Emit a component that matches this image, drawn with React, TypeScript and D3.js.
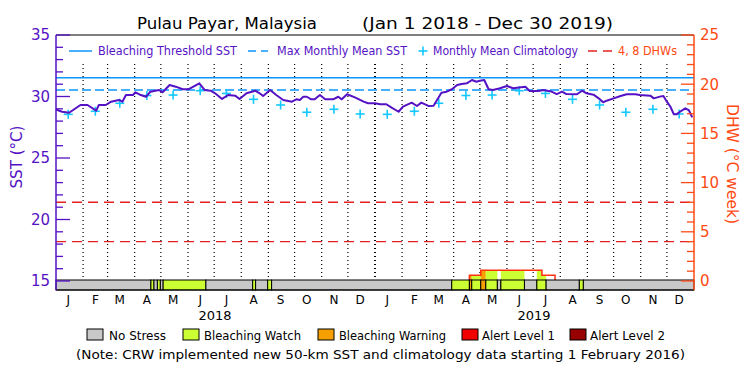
import React from "react";
import * as d3 from "d3";

// ---------- data ----------
const START = Date.UTC(2018, 0, 1);
const END = Date.UTC(2020, 0, 1);

// SST (daily-ish readings): day offset from Jan 1 2018, value in °C
const sstDays = [0, 7, 15, 28, 36, 46, 49, 57, 63, 72, 76, 80, 88, 91, 97, 103, 108, 118, 122, 130, 137, 145, 152, 164, 170, 177, 182, 190, 197, 205, 210, 218, 228, 233, 237, 245, 252, 260, 270, 275, 279, 283, 287, 292, 296, 302, 308, 317, 323, 327, 333, 342, 352, 357, 365, 371, 378, 384, 392, 397, 407, 413, 418, 426, 432, 436, 441, 447, 453, 459, 464, 470, 476, 481, 485, 490, 495, 500, 508, 516, 523, 537, 542, 552, 558, 562, 567, 573, 579, 584, 596, 602, 607, 615, 621, 626, 630, 638, 646, 653, 663, 668, 680, 684, 691, 695, 699, 703, 707, 710, 714, 720, 724, 728];
const sstValues = [28.94, 28.76, 28.68, 29.31, 29.31, 28.85, 29.31, 29.31, 29.58, 29.72, 29.58, 30.12, 30.12, 30.34, 30.12, 29.98, 30.39, 30.53, 30.34, 30.93, 30.8, 30.59, 30.59, 31.07, 30.53, 30.47, 30.26, 29.8, 30.12, 30.07, 29.8, 30.26, 30.47, 30.26, 30.04, 30.53, 30.12, 29.72, 29.58, 29.77, 29.72, 29.98, 29.98, 29.77, 29.77, 30.12, 29.77, 29.77, 29.98, 29.77, 30.18, 29.93, 29.58, 29.45, 29.45, 29.37, 29.37, 29.09, 28.76, 29.17, 29.5, 29.23, 29.5, 29.23, 29.25, 29.72, 30.31, 30.39, 30.59, 30.93, 31.02, 31.07, 31.34, 31.2, 31.28, 31.34, 30.59, 30.53, 30.67, 30.85, 30.67, 30.8, 30.45, 30.45, 30.53, 30.47, 30.4, 30.2, 30.4, 30.2, 30.18, 30.47, 30.26, 30.15, 29.85, 29.53, 29.66, 29.85, 30.04, 30.18, 30.18, 30.12, 30.07, 29.85, 29.99, 30.04, 29.58, 29.17, 28.55, 28.55, 28.76, 29.04, 28.9, 28.3];

// Monthly mean climatology (Jan..Dec)
const climValues = [28.55, 28.8, 29.45, 30.08, 30.12, 30.47, 30.25, 29.77, 29.31, 28.72, 28.96, 28.58];
const climYears = [2018, 2019];

const mmm = 30.53;
const bleachingThreshold = 31.53;
const dhwLines = [4, 8];

// Bleaching status runs (day offsets) — 0 none, 1 watch, 2 warning, 3 alert1, 4 alert2
const statusStart = [0, 108.6, 112.1, 116, 119.4, 122.6, 171.5, 225, 228.4, 242.2, 246.7, 452.8, 473, 475.7, 486, 491.8, 505, 509, 536, 550.2, 560.8, 598.8, 603.4];
const statusEnd = [108.6, 112.1, 116, 119.4, 122.6, 171.5, 225, 228.4, 242.2, 246.7, 452.8, 473, 475.7, 486, 491.8, 505, 509, 536, 550.2, 560.8, 598.8, 603.4, 730];
const statusLevel = [0, 1, 0, 1, 0, 1, 0, 1, 0, 1, 0, 1, 2, 1, 2, 1, 0, 1, 0, 1, 0, 1, 0];

// Degree Heating Weeks (step values)
const dhwDays = [473, 473, 486, 556, 571];
const dhwValues = [0, 0.58, 1.09, 0.58, 0];

const monthLetters = ["J", "F", "M", "A", "M", "J", "J", "A", "S", "O", "N", "D"];
const yearLabels = ["2018", "2019"];
const sstTicks = [15, 20, 25, 30, 35];
const dhwTicks = [0, 5, 10, 15, 20, 25];

const statusNames = ["No Stress", "Bleaching Watch", "Bleaching Warning", "Alert Level 1", "Alert Level 2"];
const statusColors = ["#c8c8c8", "#ccff33", "#f5a000", "#f00000", "#960000"];

// ---------- styling ----------
const PURPLE = "#5512c4";
const ORANGE = "#ff4a14";
const BLUE = "#0a96ff";
const CYAN = "#14c8ff";
const RED = "#e42020";
const FONT = "'DejaVu Sans', sans-serif";

const dayDate = (d: number) => new Date(START + d * 86400000);

export default function App() {
  const x = d3.scaleUtc().domain([new Date(START), new Date(END)]).range([56, 694]);
  const xd = (d: number) => x(dayDate(d));
  const yS = d3.scaleLinear().domain([15, 35]).range([281, 35]);
  const yD = d3.scaleLinear().domain([0, 25]).range([281, 35]);
  const barTop = 280;
  const barBot = 290;

  const sstPts: [number, number][] = sstDays.map((d, i) => [d, sstValues[i]]);
  const sstLine = d3.line<[number, number]>().x((d) => xd(d[0])).y((d) => yS(d[1]))(sstPts) || "";

  const dhwPts: [number, number][] = dhwDays.map((d, i) => [d, dhwValues[i]]);
  const dhwOutline = d3
    .line<[number, number]>()
    .curve(d3.curveStepAfter)
    .x((d) => xd(d[0]))
    .y((d) => Math.min(yD(d[1]), barTop))(dhwPts) || "";
  const dhwArea = d3
    .area<[number, number]>()
    .curve(d3.curveStepAfter)
    .x((d) => xd(d[0]))
    .y0(barTop)
    .y1((d) => Math.min(yD(d[1]), barTop))(dhwPts) || "";

  const monthStarts = d3.utcMonth.range(new Date(Date.UTC(2018, 1, 1)), new Date(END));
  const allMonths = d3.utcMonth.range(new Date(START), new Date(END));

  const sstMinor = d3.range(15, 35.01, 1);
  const dhwMinor = d3.range(0, 25.01, 1);

  const plus = (cx: number, cy: number, r: number, key: string) => (
    <g key={key} stroke={CYAN} strokeWidth={1.6}>
      <line x1={cx - r} x2={cx + r} y1={cy} y2={cy} />
      <line x1={cx} x2={cx} y1={cy - r} y2={cy + r} />
    </g>
  );

  const legendBoxX = [87, 183, 318, 462, 570];
  const legendTextX = [109, 204, 339, 482, 590];
  const legendTextW = [57, 97, 107, 73, 75];

  return (
    <svg width={750} height={375} style={{ position: "absolute", left: 0, top: 0, background: "#fff" }} fontFamily={FONT}>
      <rect x={0} y={0} width={750} height={375} fill="#fff" />
      <defs>
        <clipPath id="dhwclip">
          <path d={dhwArea} />
        </clipPath>
      </defs>

      {/* Title */}
      <text x={137} y={29} fontSize={16} fill="#000" textLength={180} lengthAdjust="spacingAndGlyphs">Pulau Payar, Malaysia</text>
      <text x={362} y={29} fontSize={16} fill="#000" textLength={251} lengthAdjust="spacingAndGlyphs">(Jan 1 2018 - Dec 30 2019)</text>

      {/* dotted month lines */}
      {monthStarts.map((m, i) => (
        <line key={"ml" + i} x1={x(m)} x2={x(m)} y1={64} y2={barTop} stroke="#000" strokeWidth={m.getUTCMonth() === 0 ? 2 : 1.2} strokeDasharray="1,3" />
      ))}

      {/* DHW reference lines */}
      {dhwLines.map((v) => (
        <line key={"dl" + v} x1={56} x2={694} y1={yD(v)} y2={yD(v)} stroke={RED} strokeWidth={1.4} strokeDasharray="10,6" />
      ))}

      {/* threshold and MMM */}
      <line x1={56} x2={694} y1={yS(bleachingThreshold)} y2={yS(bleachingThreshold)} stroke={BLUE} strokeWidth={1.5} />
      <line x1={56} x2={694} y1={yS(mmm)} y2={yS(mmm)} stroke={BLUE} strokeWidth={1.5} strokeDasharray="9,4" />

      {/* climatology */}
      {climYears.map((yr) =>
        climValues.map((v, m) => plus(x(new Date(Date.UTC(yr, m, 15))), yS(v), 4.5, `c${yr}-${m}`))
      )}

      {/* SST line */}
      <path d={sstLine} fill="none" stroke={PURPLE} strokeWidth={2} strokeLinejoin="round" />

      {/* top legend */}
      <line x1={69} x2={92} y1={51} y2={51} stroke={BLUE} strokeWidth={1.5} />
      <text x={98} y={55} fontSize={12} fill={PURPLE} textLength={139} lengthAdjust="spacingAndGlyphs">Bleaching Threshold SST</text>
      <line x1={248} x2={268} y1={51} y2={51} stroke={BLUE} strokeWidth={1.5} strokeDasharray="8,5" />
      <text x={277} y={55} fontSize={12} fill={PURPLE} textLength={130} lengthAdjust="spacingAndGlyphs">Max Monthly Mean SST</text>
      {plus(423, 51, 4.5, "legplus")}
      <text x={433} y={55} fontSize={12} fill={PURPLE} textLength={145} lengthAdjust="spacingAndGlyphs">Monthly Mean Climatology</text>
      <line x1={588} x2={612} y1={51} y2={51} stroke={RED} strokeWidth={1.4} strokeDasharray="9,6" />
      <text x={618} y={55} fontSize={12} fill={ORANGE} textLength={59} lengthAdjust="spacingAndGlyphs">4, 8 DHWs</text>

      {/* DHW fill coloured by status, clipped to DHW area */}
      <g clipPath="url(#dhwclip)">
        {statusStart.map((s, i) =>
          statusLevel[i] > 0 ? (
            <rect key={"df" + i} x={xd(s)} y={35} width={xd(statusEnd[i]) - xd(s)} height={barTop - 35} fill={statusColors[statusLevel[i]]} />
          ) : null
        )}
      </g>
      <path d={dhwOutline} fill="none" stroke="#ff3010" strokeWidth={1.5} />

      {/* status bar */}
      {statusStart.map((s, i) => (
        <rect key={"sb" + i} x={xd(s)} y={barTop} width={xd(statusEnd[i]) - xd(s)} height={barBot - barTop} fill={statusColors[statusLevel[i]]} stroke="#000" strokeWidth={1} />
      ))}

      {/* frame */}
      <line x1={56} x2={694} y1={35} y2={35} stroke="#000" strokeWidth={1.2} />
      <line x1={56} x2={694} y1={barBot} y2={barBot} stroke="#000" strokeWidth={1.2} />

      {/* left axis */}
      <line x1={56} x2={56} y1={35} y2={barBot} stroke={PURPLE} strokeWidth={1.5} />
      {sstMinor.map((v) => (
        <line key={"lm" + v} x1={56} x2={v % 5 === 0 ? 70 : 63} y1={yS(v)} y2={yS(v)} stroke={PURPLE} strokeWidth={1.3} />
      ))}
      {sstTicks.map((v) => (
        <text key={"lt" + v} x={50} y={yS(v)} dy="0.36em" fontSize={15} fill={PURPLE} textAnchor="end">{v}</text>
      ))}
      <text transform="translate(22,157) rotate(-90)" fontSize={16} fill={PURPLE} textAnchor="middle" textLength={63} lengthAdjust="spacingAndGlyphs">SST (°C)</text>

      {/* right axis */}
      <line x1={694} x2={694} y1={35} y2={barBot} stroke={ORANGE} strokeWidth={1.5} />
      {dhwMinor.map((v) => (
        <line key={"rm" + v} x1={v % 5 === 0 ? 681 : 687} x2={694} y1={yD(v)} y2={yD(v)} stroke={ORANGE} strokeWidth={1.3} />
      ))}
      {dhwTicks.map((v) => (
        <text key={"rt" + v} x={700} y={yD(v)} dy="0.36em" fontSize={15} fill={ORANGE}>{v}</text>
      ))}
      <text transform="translate(727,164) rotate(90)" fontSize={16} fill={ORANGE} textAnchor="middle" textLength={120} lengthAdjust="spacingAndGlyphs">DHW (°C week)</text>

      {/* month labels */}
      {allMonths.map((m, i) => (
        <text key={"mlab" + i} x={x(d3.utcDay.offset(m, 14))} y={303.5} fontSize={12} fill="#000" textAnchor="middle">{monthLetters[m.getUTCMonth()]}</text>
      ))}
      {yearLabels.map((yl, i) => (
        <text key={"yl" + i} x={x(new Date(Date.UTC(+yl, 6, 2)))} y={320} fontSize={13} fill="#000" textAnchor="middle">{yl}</text>
      ))}

      {/* bottom legend */}
      {statusNames.map((n, i) => (
        <g key={"lg" + i}>
          <rect x={legendBoxX[i]} y={329} width={16} height={11} fill={statusColors[i]} stroke="#000" strokeWidth={1} />
          <text x={legendTextX[i]} y={340} fontSize={13} fill="#000" textLength={legendTextW[i]} lengthAdjust="spacingAndGlyphs">{n}</text>
        </g>
      ))}
      <text x={76} y={359} fontSize={13} fill="#000" textLength={609} lengthAdjust="spacingAndGlyphs">(Note: CRW implemented new 50-km SST and climatology data starting 1 February 2016)</text>
    </svg>
  );
}
